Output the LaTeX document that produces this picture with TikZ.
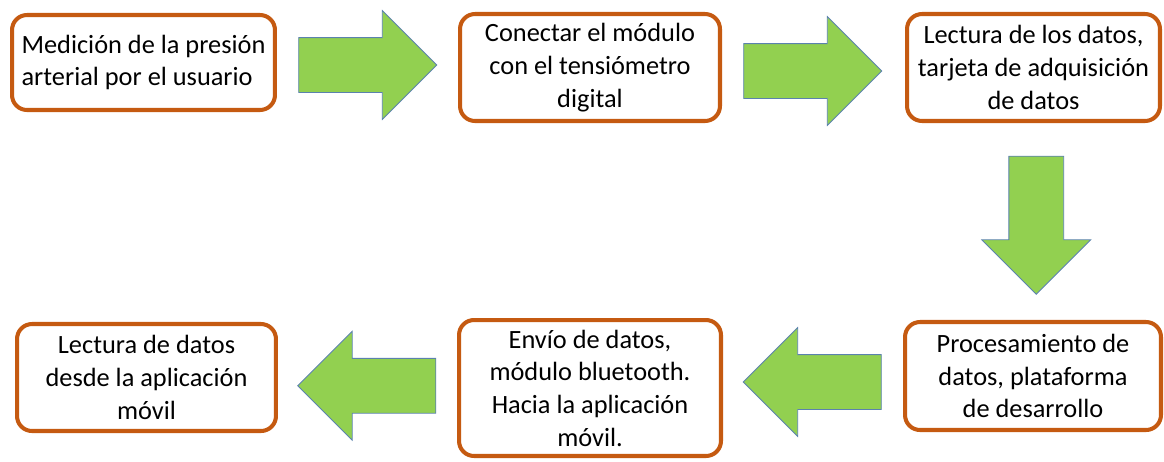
\documentclass[tikz,border=0pt]{standalone}
\usepackage{fontspec}
\setmainfont{Carlito}
\usetikzlibrary{shapes.arrows,calc}
\definecolor{borde}{HTML}{C55A11}
\definecolor{verde}{HTML}{92D050}
\definecolor{contorno}{HTML}{5B82AE}

\begin{document}
\begin{tikzpicture}[x=0.02cm,y=-0.02cm,
        paso/.style={draw=borde,line width=2.3pt,rounded corners=0.3cm,fill=white,
            align=center,inner sep=2pt,font=\fontsize{15}{18.6}\selectfont},
        flecha/.style={single arrow,draw=contorno,line width=0.5pt,fill=verde,
            minimum height=2.76cm,single arrow head extend=0.54cm,
            inner sep=0.54cm}]

        \useasboundingbox (0,0) rectangle (1164,461);

        % Define boxes
        \node[paso,minimum width=5.26cm,minimum height=1.9cm,align=left] (medicion) at (143.5,62.5)
            {Medición de la presión\\arterial por el usuario};
        \node[paso,minimum width=5.2cm,minimum height=2.14cm] (conectar) at (590,67.5)
            {Conectar el módulo\\con el tensiómetro\\digital};
        \node[paso,minimum width=5.06cm,minimum height=2.14cm] (lectura) at (1033.5,67.5)
            {Lectura de los datos,\\tarjeta de adquisición\\de datos};
        \node[paso,minimum width=5.12cm,minimum height=2.16cm] (proceso) at (1033,376)
            {Procesamiento de\\datos, plataforma\\de desarrollo};
        \node[paso,minimum width=5.24cm,minimum height=2.72cm] (envio) at (590,388)
            {Envío de datos,\\módulo bluetooth.\\Hacia la aplicación\\móvil.};
        \node[paso,minimum width=5.18cm,minimum height=2.14cm] (app) at (146.5,377.5)
            {Lectura de datos\\desde la aplicación\\móvil};

        % Draw arrows
        \node[flecha,xshift=-0.27cm] (f1) at ($(medicion.east)!0.5!(conectar.west)$) {};
        \node[flecha,xshift=-0.29cm,yshift=-0.07cm] (f2) at ($(conectar.east)!0.5!(lectura.west)$) {};
        \node[flecha,shape border rotate=270,yshift=0.2cm,xshift=0.06cm] (f3)
            at ($(lectura.south)!0.5!(proceso.north)$) {};
        \node[flecha,shape border rotate=180,xshift=0.26cm] (f4) at ($(proceso.west)!0.5!(envio.east)$) {};
        \node[flecha,shape border rotate=180,xshift=0.26cm,yshift=-0.06cm] (f5)
            at ($(envio.west)!0.5!(app.east)$) {};

        \end{tikzpicture}
\end{document}
